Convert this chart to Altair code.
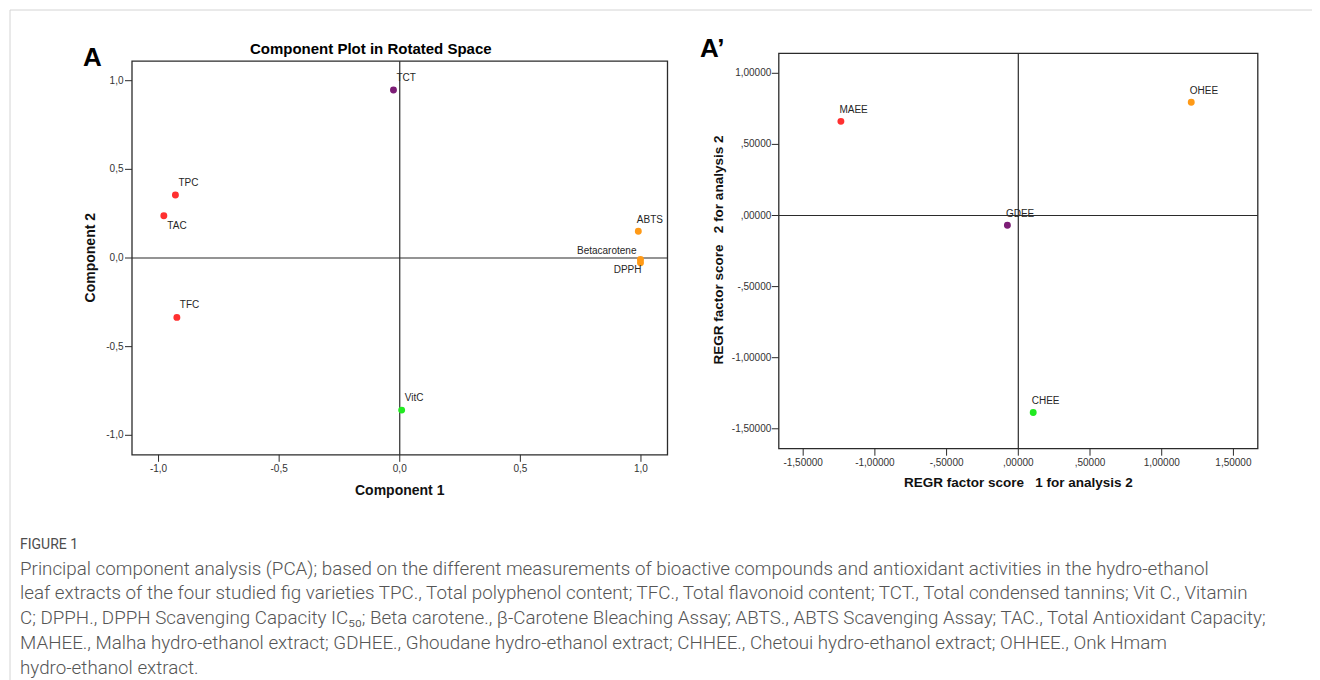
import altair as alt
import pandas as pd

W, H = 1304, 672
FONT = "Liberation Sans"
CAP_FONT = "Roboto"

# ---------------- Panel A: component loadings ----------------
a_names = ["TPC", "TAC", "TFC", "TCT", "VitC", "ABTS", "Betacarotene", "DPPH"]
a_comp1 = [-0.930, -0.978, -0.924, -0.026, 0.008, 0.989, 0.998, 0.998]
a_comp2 = [0.355, 0.238, -0.335, 0.948, -0.858, 0.151, -0.008, -0.027]
a_group = ["red", "red", "red", "purple", "green", "orange", "orange", "orange"]
a_place = ["ne", "se", "ne", "ne", "ne", "n", "nw", "sw"]
a_ticks = [-1.0, -0.5, 0.0, 0.5, 1.0]
a_tick_labels = ["-1,0", "-0,5", "0,0", "0,5", "1,0"]

# ---------------- Panel A': factor scores ----------------
b_names = ["MAEE", "OHEE", "GDEE", "CHEE"]
b_score1 = [-1.237, 1.206, -0.076, 0.104]
b_score2 = [0.662, 0.796, -0.068, -1.385]
b_group = ["red", "orange", "purple", "green"]
b_place = ["n", "n", "n", "n"]
b_xticks = [-1.5, -1.0, -0.5, 0.0, 0.5, 1.0, 1.5]
b_xtick_labels = ["-1,50000", "-1,00000", "-,50000", ",00000", ",50000", "1,00000", "1,50000"]
b_yticks = [1.0, 0.5, 0.0, -0.5, -1.0, -1.5]
b_ytick_labels = ["1,00000", ",50000", ",00000", "-,50000", "-1,00000", "-1,50000"]

group_domain = ["red", "purple", "orange", "green"]
group_colors = ["#ff3030", "#7d1d76", "#ff9a17", "#22ea22"]

caption_lines = [
    "Principal component analysis (PCA); based on the different measurements of bioactive compounds and antioxidant activities in the hydro-ethanol",
    "leaf extracts of the four studied fig varieties TPC., Total polyphenol content; TFC., Total flavonoid content; TCT., Total condensed tannins; Vit C., Vitamin",
    "C; DPPH., DPPH Scavenging Capacity IC\u2085\u2080; Beta carotene., \u03b2-Carotene Bleaching Assay; ABTS., ABTS Scavenging Assay; TAC., Total Antioxidant Capacity;",
    "MAHEE., Malha hydro-ethanol extract; GDHEE., Ghoudane hydro-ethanol extract; CHHEE., Chetoui hydro-ethanol extract; OHHEE., Onk Hmam",
    "hydro-ethanol extract.",
]

dfA = pd.DataFrame({"name": a_names, "c1": a_comp1, "c2": a_comp2, "grp": a_group, "place": a_place})
dfB = pd.DataFrame({"name": b_names, "s1": b_score1, "s2": b_score2, "grp": b_group, "place": b_place})
tickA = pd.DataFrame({"v": a_ticks, "lab": a_tick_labels})
tickBx = pd.DataFrame({"v": b_xticks, "lab": b_xtick_labels})
tickBy = pd.DataFrame({"v": b_yticks, "lab": b_ytick_labels})

color = alt.Color("grp:N", scale=alt.Scale(domain=group_domain, range=group_colors), legend=None)

# scales (plot-area pixel ranges)
ax_dom, ay_dom = [-1.11, 1.11], [-1.11, 1.11]
sAx = alt.Scale(domain=ax_dom, range=[124, 659.5], nice=False, zero=False)
sAy = alt.Scale(domain=ay_dom, range=[446.8, 53.2], nice=False, zero=False)
bx_dom, by_dom = [-1.67, 1.67], [-1.64, 1.14]
sBx = alt.Scale(domain=bx_dom, range=[770.8, 1249.8], nice=False, zero=False)
sBy = alt.Scale(domain=by_dom, range=[440.7, 45.4], nice=False, zero=False)

LINE = "#2b2b2b"
TICK_LEN = 7


def frame(sx, sy, xd, yd):
    return alt.Chart().mark_rect(fillOpacity=0, stroke=LINE, strokeWidth=1.3).encode(
        x=alt.XDatum(xd[0], scale=sx, axis=None), x2=alt.datum(xd[1]),
        y=alt.YDatum(yd[0], scale=sy, axis=None), y2=alt.datum(yd[1]))


def cross(sx, sy, xd, yd):
    v = alt.Chart().mark_rule(color=LINE, strokeWidth=1.2).encode(
        x=alt.XDatum(0.0, scale=sx, axis=None),
        y=alt.YDatum(yd[0], scale=sy, axis=None), y2=alt.datum(yd[1]))
    h = alt.Chart().mark_rule(color=LINE, strokeWidth=1.2).encode(
        y=alt.YDatum(0.0, scale=sy, axis=None),
        x=alt.XDatum(xd[0], scale=sx, axis=None), x2=alt.datum(xd[1]))
    return [v, h]


def x_axis(df, sx, sy, yd, label_dy):
    ticks = alt.Chart(df).mark_rule(color=LINE, strokeWidth=1, y2Offset=TICK_LEN).encode(
        x=alt.X("v:Q", scale=sx, axis=None),
        y=alt.YDatum(yd[0], scale=sy, axis=None), y2=alt.datum(yd[0]))
    labs = alt.Chart(df).mark_text(font=FONT, fontSize=10, color="#333", align="center",
                                   baseline="middle", dy=label_dy).encode(
        x=alt.X("v:Q", scale=sx, axis=None),
        y=alt.YDatum(yd[0], scale=sy, axis=None), text="lab:N")
    return [ticks, labs]


def y_axis(df, sx, sy, xd, label_dx):
    ticks = alt.Chart(df).mark_rule(color=LINE, strokeWidth=1, x2Offset=-TICK_LEN).encode(
        y=alt.Y("v:Q", scale=sy, axis=None),
        x=alt.XDatum(xd[0], scale=sx, axis=None), x2=alt.datum(xd[0]))
    labs = alt.Chart(df).mark_text(font=FONT, fontSize=10, color="#333", align="right",
                                   baseline="middle", dx=label_dx).encode(
        y=alt.Y("v:Q", scale=sy, axis=None),
        x=alt.XDatum(xd[0], scale=sx, axis=None), text="lab:N")
    return [ticks, labs]


placements = {
    "ne": dict(align="left", dx=3, dy=-12),
    "se": dict(align="left", dx=3.5, dy=10),
    "n": dict(align="left", dx=-1.5, dy=-11),
    "nw": dict(align="right", dx=-4, dy=-8),
    "sw": dict(align="right", dx=1, dy=7),
}


def labels(df, xf, yf, sx, sy, places):
    out = []
    for p in places:
        cfg = placements[p]
        out.append(alt.Chart(df).transform_filter(alt.datum.place == p).mark_text(
            baseline="middle", fontSize=10, font=FONT, color="#262626", **cfg).encode(
            x=alt.X(xf, scale=sx, axis=None), y=alt.Y(yf, scale=sy, axis=None), text="name:N"))
    return out


def deco_text(txt, x, y, size, weight="bold", align="left", baseline="alphabetic", angle=0,
              color="#000", font=FONT):
    return alt.Chart().mark_text(text=txt, font=font, fontSize=size, fontWeight=weight,
                                 align=align, baseline=baseline, angle=angle,
                                 color=color).encode(x=alt.value(x), y=alt.value(y))


pointsA = alt.Chart(dfA).mark_circle(size=48, opacity=1).encode(
    x=alt.X("c1:Q", scale=sAx, axis=None), y=alt.Y("c2:Q", scale=sAy, axis=None), color=color)
pointsB = alt.Chart(dfB).mark_circle(size=48, opacity=1).encode(
    x=alt.X("s1:Q", scale=sBx, axis=None), y=alt.Y("s2:Q", scale=sBy, axis=None), color=color)

panelA = alt.layer(
    frame(sAx, sAy, ax_dom, ay_dom), *cross(sAx, sAy, ax_dom, ay_dom),
    *x_axis(tickA, sAx, sAy, ay_dom, 14.5), *y_axis(tickA, sAx, sAy, ax_dom, -8.5),
    pointsA,
    *labels(dfA, "c1:Q", "c2:Q", sAx, sAy, ["ne", "se", "n", "nw", "sw"]),
    deco_text("Component 1", 391.7, 483, 14, align="center", baseline="middle", color="#111"),
    deco_text("Component 2", 83, 249.7, 14, align="center", baseline="middle", angle=270, color="#111"),
    deco_text("Component Plot in Rotated Space", 362.8, 46, 15, align="center"),
    deco_text("A", 75, 58, 26),
)
panelB = alt.layer(
    frame(sBx, sBy, bx_dom, by_dom), *cross(sBx, sBy, bx_dom, by_dom),
    *x_axis(tickBx, sBx, sBy, by_dom, 14.5), *y_axis(tickBy, sBx, sBy, bx_dom, -7.5),
    pointsB,
    *labels(dfB, "s1:Q", "s2:Q", sBx, sBy, ["n"]),
    deco_text("REGR factor score\u00a0\u00a0 1 for analysis 2", 1010.3, 475, 13.5,
              align="center", baseline="middle", color="#111"),
    deco_text("REGR factor score\u00a0\u00a0 2 for analysis 2", 710.5, 242, 13.5,
              align="center", baseline="middle", angle=270, color="#111"),
    deco_text("A\u2019", 692, 49, 26),
)

border_v = alt.Chart().mark_rule(color="#d4d4d4", strokeWidth=1).encode(
    x=alt.value(2), y=alt.value(2), y2=alt.value(H))
border_h = alt.Chart().mark_rule(color="#d4d4d4", strokeWidth=1).encode(
    y=alt.value(2), x=alt.value(2), x2=alt.value(W))

fig_label = deco_text("FIGURE 1", 12, 541, 14, weight="normal", color="#4d4d4d", font=CAP_FONT)
caption = alt.Chart().mark_text(text="\n".join(caption_lines), lineBreak="\n", lineHeight=24.8,
                                font=CAP_FONT, fontSize=18.8, fontWeight=300, align="left",
                                baseline="alphabetic", color="#555555").encode(
    x=alt.value(12), y=alt.value(566.5))

chart = alt.layer(panelA, panelB, border_v, border_h, fig_label, caption).resolve_scale(
    x="independent", y="independent").properties(
    width=W, height=H, autosize=alt.AutoSizeParams(type="none"), padding=0,
).configure_view(stroke=None)

chart.save("out.html", embed_options={"renderer": "svg", "actions": False})
